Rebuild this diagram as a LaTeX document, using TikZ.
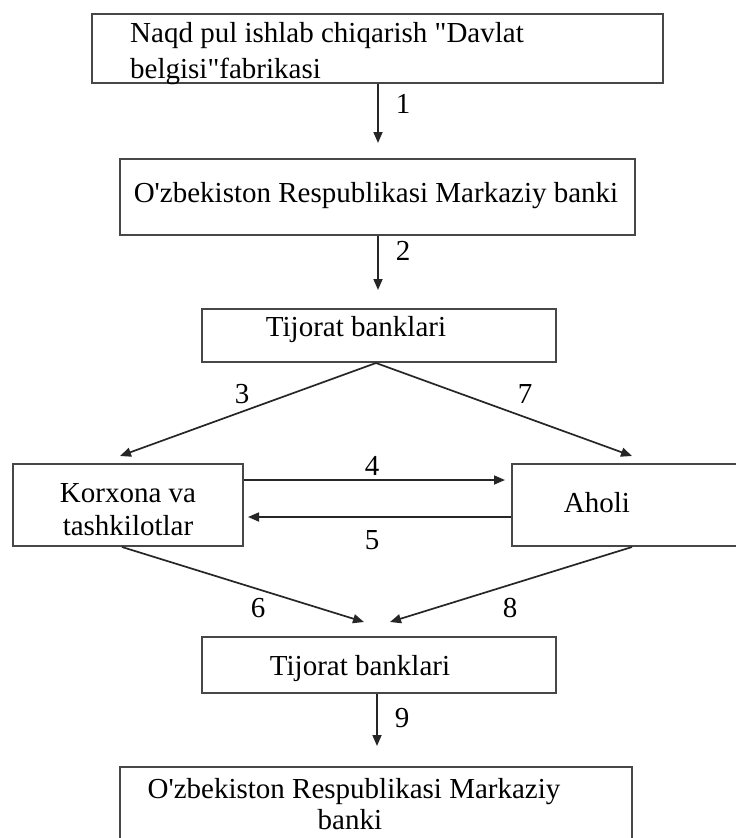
\documentclass[tikz,border=0pt]{standalone}
\usepackage{fontspec}
\setmainfont{Liberation Serif}[Ligatures=TeXOff]
\usetikzlibrary{arrows.meta,calc}
\begin{document}
\begin{tikzpicture}[x=1pt,y=-1pt,
  box/.style={draw=black!72, line width=2pt, rectangle, inner sep=0pt},
  arr/.style={draw=black!85, line width=1.7pt, -{Triangle[length=11pt,width=9pt]}},
  txt/.style={font=\fontsize{29}{33}\selectfont, inner sep=0pt, align=center},
  num/.style={font=\fontsize{29}{31}\selectfont, inner sep=0pt}]
\useasboundingbox (0,0) rectangle (736,838);
% boxes
\node[box, minimum width=571pt, minimum height=69pt] (b1) at (377.5,48.5) {};
\node[box, minimum width=515pt, minimum height=76pt] (b2) at (377.5,197) {};
\node[box, minimum width=354pt, minimum height=53pt] (b3) at (379,335.5) {};
\node[box, minimum width=230pt, minimum height=82pt] (b4) at (128,505) {};
\node[box, minimum width=240pt, minimum height=82pt] (b5) at (632,505) {};
\node[box, minimum width=354pt, minimum height=56pt] (b6) at (379,665) {};
\node[box, minimum width=512pt, minimum height=82pt] (b7) at (376,808) {};
% texts
\node[txt, anchor=west, align=left] (t1) at (130,54) {Naqd pul ishlab chiqarish "Davlat\\[3pt]belgisi"fabrikasi};
\node[txt] (t2) at (376,196) {O'zbekiston Respublikasi Markaziy banki};
\node[txt] (t3) at (356,330) {Tijorat banklari};
\node[txt] (t4) at (128,510) {Korxona va\\tashkilotlar};
\node[txt] (t5) at (597,503) {Aholi};
\node[txt] (t6) at (360,669) {Tijorat banklari};
\node[txt, align=left] (t7) at (354,804) {O'zbekiston Respublikasi Markaziy\\[-2pt]\hspace*{170pt}banki};
% arrow tips
\coordinate (e1) at (378,143);
\coordinate (e2) at (378,290);
\coordinate (e3) at (120,456);
\coordinate (e7) at (632,456);
\coordinate (e4) at (505,480);
\coordinate (e5) at (248,517);
\coordinate (e6) at (364,622);
\coordinate (e8) at (390,622);
\coordinate (e9) at (377,746);
% connectors
\draw[arr] (b1.south -| e1) -- (e1);
\draw[arr] (b2.south -| e2) -- (e2);
\draw[arr] (b3.south -| 376,0) -- (e3);
\draw[arr] (b3.south -| 376,0) -- (e7);
\draw[arr] (b4.east |- e4) -- (e4);
\draw[arr] (b5.west |- e5) -- (e5);
\draw[arr] ($(b4.south)+(-6,0)$) -- (e6);
\draw[arr] (b5.south) -- (e8);
\draw[arr] (b6.south -| e9) -- (e9);
% labels
\node[num] (n1) at (403,104) {1};
\node[num] (n2) at (403,251) {2};
\node[num] (n3) at (242,394) {3};
\node[num] (n7) at (525,394) {7};
\node[num] (n4) at (372,466) {4};
\node[num] (n5) at (372,540) {5};
\node[num] (n6) at (258,608) {6};
\node[num] (n8) at (510,608) {8};
\node[num] (n9) at (402,718) {9};
\end{tikzpicture}
\end{document}
